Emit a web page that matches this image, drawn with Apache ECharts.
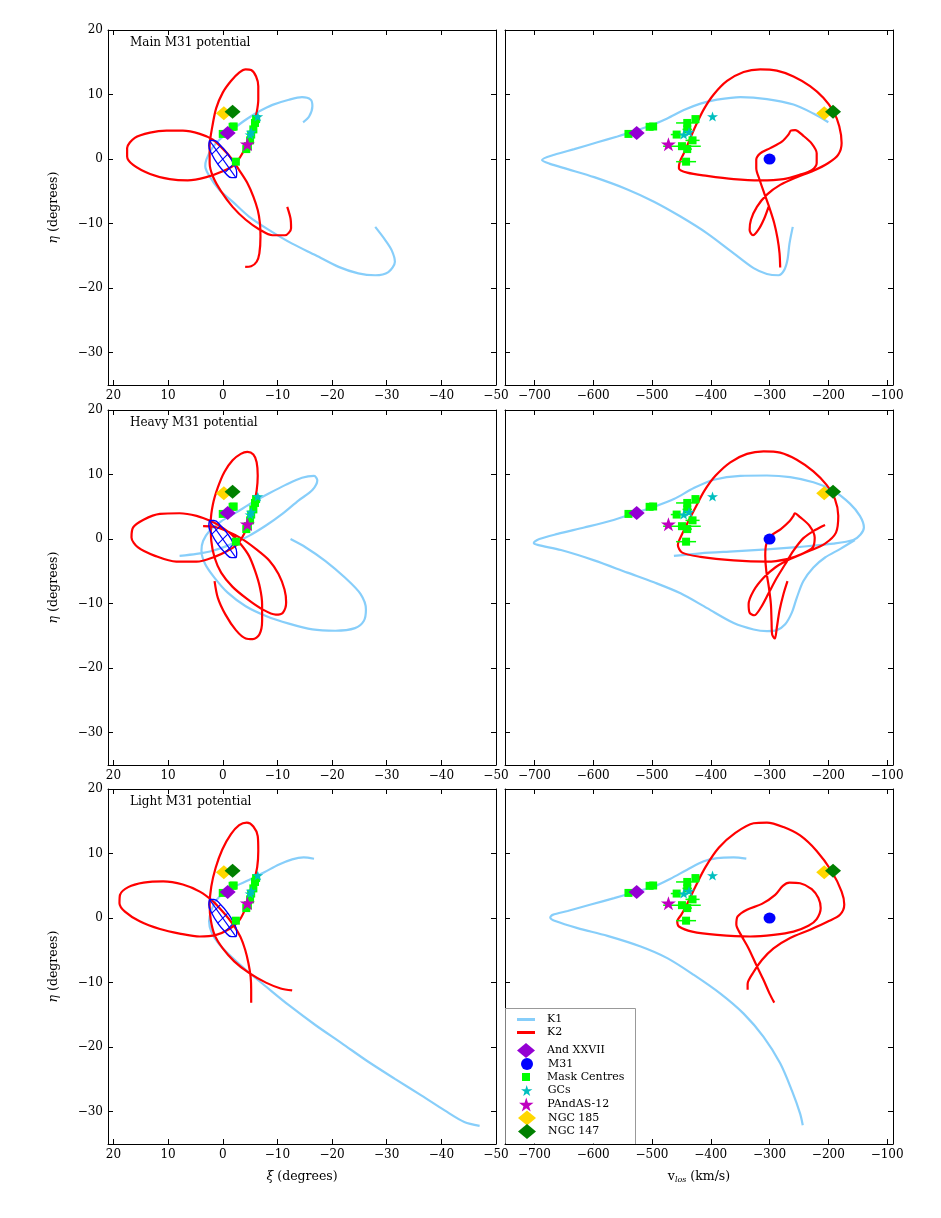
<!DOCTYPE html>
<html><head><meta charset="utf-8">
<script src="https://cdn.jsdelivr.net/npm/echarts@6.0.0/dist/echarts.min.js"></script>
<style>html,body{margin:0;padding:0;background:#fff}#c{width:941px;height:1218px}</style>
</head><body><div id="c"></div>
<script>
// ---------------- DATA ----------------
// tick labels
const xiTicks = [-50, -40, -30, -20, -10, 0, 10, 20];
const vTicks = [-700, -600, -500, -400, -300, -200, -100];
const etaTicks = [-30, -20, -10, 0, 10, 20];
const panelTitles = ['Main M31 potential', 'Heavy M31 potential', 'Light M31 potential'];

// Orbits: sky = [xi, eta] (degrees), vel = [v_los (km/s), eta]
const k1MainSky = [[-14.7,5.7],[-15.8,6.6],[-16.4,8.2],[-16.1,9.2],[-14.5,9.6],[-12.1,9.2],[-9.1,8.4],[-6.7,7.4],[-4.2,6.1],[-1.8,4.6],[0.6,3.0],[2.1,1.5],[3.0,-0.1],[3.2,-1.1],[2.4,-2.7],[0.6,-4.8],[-1.8,-6.6],[-4.8,-8.9],[-8.5,-11.0],[-12.7,-13.1],[-17.0,-14.9],[-21.2,-16.7],[-24.8,-17.7],[-27.9,-18.0],[-30.3,-17.5],[-31.5,-15.9],[-30.9,-14.1],[-29.7,-12.5],[-27.9,-10.5]];
const k1MainVel = [[-200,5.7],[-225.4,7.05],[-259.3,8.45],[-304.5,9.3],[-349.7,9.6],[-389.3,9.2],[-417.5,8.6],[-445.8,7.6],[-474,6.3],[-502.3,5.2],[-530.5,4.3],[-558.8,3.5],[-592.7,2.6],[-632.2,1.55],[-666.1,0.67],[-687,-0.15],[-674.6,-0.7],[-643.5,-1.55],[-598.3,-2.8],[-541.8,-4.7],[-496.6,-6.6],[-451.4,-8.9],[-406.2,-11.5],[-361,-14.6],[-327.1,-16.9],[-304.5,-17.8],[-284.7,-18.0],[-275.1,-17.2],[-269.5,-15.6],[-266.1,-13.1],[-260.5,-10.5]];
const k2MainSky = [[-4.1,-16.7],[-5.2,-16.6],[-6.2,-15.9],[-6.7,-14.6],[-6.9,-12.0],[-6.8,-9.9],[-6.4,-7.9],[-5.6,-5.8],[-4.5,-3.7],[-3.0,-1.7],[-1.5,0.2],[0.1,1.7],[1.8,3.0],[4.2,3.9],[7.3,4.4],[10.3,4.4],[13.3,4.1],[16.1,3.3],[17.5,1.7],[17.5,0.4],[16.4,-0.9],[13.3,-2.3],[9.7,-3.1],[6.4,-3.3],[3.0,-2.8],[0.0,-1.9],[-2.1,-0.9],[-3.6,0.9],[-4.7,3.0],[-5.6,5.1],[-6.2,7.2],[-6.5,9.2],[-6.5,11.3],[-6.1,12.8],[-5.2,13.8],[-4.2,13.9],[-3.0,13.4],[-1.5,12.1],[0.0,10.3],[1.2,7.9],[1.9,5.1],[2.4,2.0],[2.4,-0.6],[1.8,-2.7],[0.3,-5.0],[-1.8,-7.4],[-4.2,-9.4],[-6.7,-10.9],[-9.1,-11.8],[-11.4,-11.8],[-12.5,-10.7],[-12.4,-9.2],[-11.8,-7.4]];
const k2MainVel = [[-281.9,-16.8],[-283,-14.6],[-286.4,-12.3],[-292.1,-9.9],[-300,-7.6],[-309,-5.3],[-316.9,-3.2],[-322.6,-1.4],[-322.6,-0.1],[-315.8,0.9],[-298.9,1.7],[-279.1,2.7],[-267.8,3.8],[-263.8,4.4],[-256.5,4.5],[-242.4,3.6],[-228.2,2.4],[-219.8,0.9],[-219.8,-0.6],[-228.2,-1.7],[-248,-2.4],[-276.3,-3.1],[-315.8,-3.3],[-361,-3.1],[-406.2,-2.6],[-440.1,-2.1],[-454.2,-1.4],[-452.5,-0.4],[-445.8,0.9],[-437.3,2.7],[-426,5.1],[-411.9,7.7],[-395,10.0],[-372.3,12.1],[-344.1,13.5],[-315.8,13.9],[-287.6,13.7],[-259.3,12.8],[-231.1,11.3],[-208.5,9.5],[-191.5,7.4],[-181.4,5.1],[-177.4,2.5],[-183.1,0.7],[-200,-0.6],[-225.4,-1.8],[-253.7,-2.8],[-281.9,-4.0],[-304.5,-5.5],[-321.5,-7.4],[-331.6,-9.4],[-333.9,-11.0],[-328.2,-11.8],[-318.6,-10.9],[-309,-9.2],[-301.7,-7.4]];

const k1HeavySky = [[-12.4,0],[-15.2,-1.3],[-18.8,-3.4],[-22.4,-6.0],[-25.2,-8.5],[-26.2,-10.9],[-25.8,-12.7],[-24.2,-13.8],[-20.6,-14.2],[-16.4,-14.0],[-12.1,-13.1],[-7.9,-11.9],[-4.2,-10.4],[-0.9,-8.3],[1.5,-6.0],[3.2,-3.9],[3.9,-1.8],[3.6,-0.3],[2.4,1.3],[0.3,2.75],[-2.4,4.1],[-5.5,5.7],[-8.5,7.1],[-11.5,8.4],[-14.5,9.5],[-16.7,9.8],[-17.3,9.1],[-16.4,7.6],[-13.9,6.0],[-10.9,3.9],[-7.9,2.1],[-4.8,0.5],[-1.8,-0.7],[1.8,-1.8],[4.8,-2.3],[7.9,-2.6]];
const k1HeavyVel = [[-154.8,-0.15],[-180.2,-1.55],[-205.6,-2.85],[-225.4,-4.4],[-242.4,-6.5],[-253.7,-9.1],[-262.1,-11.4],[-273.4,-13.2],[-287.6,-14.1],[-304.5,-14.25],[-327.1,-14.0],[-361,-13.0],[-406.2,-10.7],[-451.4,-8.4],[-496.6,-6.7],[-541.8,-5.2],[-598.3,-3.3],[-654.8,-1.7],[-694.4,-0.9],[-701,-0.6],[-691.5,0],[-660.5,0.8],[-615.3,1.8],[-570.1,2.85],[-530.5,4.0],[-496.6,5.0],[-462.7,6.2],[-428.8,7.9],[-394.9,9.2],[-349.7,9.8],[-304.5,9.85],[-265,9.6],[-225.4,8.8],[-191.5,7.5],[-163.3,5.5],[-146.3,3.6],[-139.5,1.8],[-145.2,0.7],[-157.6,-0.15],[-191.5,-0.7],[-248,-1.2],[-304.5,-1.6],[-361,-1.9],[-417.5,-2.2],[-462.7,-2.6]];
const k2HeavySky = [[1.5,-6.5],[0.9,-9.1],[-0.5,-11.7],[-2.4,-14.1],[-4.2,-15.4],[-5.5,-15.5],[-6.7,-14.8],[-7.2,-12.7],[-7.2,-10.1],[-6.8,-7.5],[-5.9,-4.9],[-4.8,-2.6],[-3.3,-0.8],[-1.5,0.8],[0.3,1.9],[2.1,2.75],[4.8,3.6],[7.9,4.0],[11.5,3.9],[14.5,3.0],[16.4,1.8],[16.7,0.26],[15.5,-1.3],[12.4,-2.6],[8.5,-3.5],[4.8,-3.5],[1.5,-2.75],[-0.9,-1.8],[-2.7,-0.8],[-3.9,0.8],[-4.8,2.6],[-5.6,4.9],[-6.2,7.5],[-6.4,9.8],[-6.2,11.9],[-5.6,13.1],[-4.5,13.5],[-3.3,13.2],[-1.8,12.2],[-0.3,10.4],[0.9,8.0],[1.8,5.4],[2.2,2.6],[2.1,-0.26],[1.5,-2.85],[0.3,-5.2],[-1.8,-7.4],[-4.5,-9.3],[-7.3,-10.9],[-9.7,-11.7],[-11.0,-11.4],[-11.6,-9.8],[-11.3,-7.8],[-10.2,-5.4],[-8.5,-3.3],[-6.1,-1.55],[-3.3,0.15],[-0.6,1.3],[1.5,1.9],[3.6,2.0]];
const k2HeavyVel = [[-269.5,-6.5],[-276.3,-8.5],[-283.1,-11.1],[-287.6,-13.7],[-291,-15.4],[-295.5,-14.8],[-296.6,-12.7],[-297.7,-10.1],[-301.1,-7.5],[-305.6,-4.9],[-307.3,-2.6],[-305.6,-0.8],[-297.7,0.5],[-280.8,1.55],[-266.1,2.75],[-259.3,3.6],[-257,4.0],[-248,3.4],[-232.2,2.1],[-223.2,0.26],[-226.6,-1.3],[-245.2,-2.3],[-270.6,-3.1],[-304.5,-3.5],[-361,-3.3],[-417.5,-2.75],[-448.6,-2.1],[-455.9,-0.9],[-448.6,0.8],[-439,2.6],[-426,4.9],[-410.7,7.5],[-392.1,9.8],[-366.7,11.9],[-338.4,13.2],[-310.2,13.6],[-281.9,13.4],[-253.7,12.3],[-225.4,10.5],[-203,8.4],[-188.7,6.2],[-183.1,3.6],[-187,1.0],[-205.6,-0.7],[-233.9,-1.9],[-265,-3.1],[-290.4,-4.4],[-310.2,-6.0],[-327.1,-8.0],[-335.6,-10.1],[-333.9,-11.4],[-326,-11.8],[-314.7,-10.6],[-301.7,-8.4],[-287.6,-6.0],[-273.4,-3.9],[-259.3,-1.8],[-242.4,0.15],[-222.6,1.4],[-205.6,2.2]];

const k1LightSky = [[-16.7,9.2],[-14.8,9.4],[-12.7,9.1],[-10.3,8.3],[-7.6,7.1],[-4.8,5.9],[-2.4,5.0],[-0.3,4.0],[1.2,2.75],[2.1,1.2],[2.5,-0.5],[2.1,-2.1],[0.9,-3.8],[-1.2,-5.7],[-4.2,-8.0],[-7.9,-10.6],[-12.1,-13.5],[-17.0,-16.6],[-21.8,-19.4],[-26.7,-22.3],[-31.5,-24.9],[-36.4,-27.5],[-40.6,-29.8],[-44.2,-31.6],[-47.0,-32.2]];
const k1LightVel = [[-339.5,9.2],[-361,9.4],[-389.3,9.3],[-411.9,8.8],[-440.1,7.5],[-468.4,6.1],[-496.6,4.9],[-530.5,4.0],[-564.4,3.1],[-604,2.1],[-643.5,1.1],[-668.9,0.5],[-673,0.1],[-663.3,-0.5],[-626.6,-1.55],[-575.7,-2.75],[-519.2,-4.4],[-474,-6.2],[-428.8,-8.8],[-383.6,-11.7],[-344.1,-14.8],[-310.2,-18.4],[-281.9,-22.5],[-262.1,-26.7],[-248,-30.3],[-243.5,-32.1]];
const k2LightSky = [[-5.2,-13.1],[-5.2,-11.1],[-5.1,-9.1],[-4.7,-7.0],[-4.1,-4.9],[-3.2,-2.85],[-1.8,-0.9],[-0.1,0.9],[1.8,2.6],[4.2,4.1],[7.3,5.2],[10.9,5.7],[14.5,5.5],[17.3,4.8],[18.8,3.6],[18.9,2.3],[17.9,1.0],[15.2,-0.5],[11.5,-1.7],[7.9,-2.4],[4.2,-2.85],[1.2,-2.6],[-1.2,-1.7],[-2.9,-0.5],[-3.9,1.0],[-4.8,3.1],[-5.6,5.4],[-6.3,7.9],[-6.5,10.4],[-6.4,12.7],[-5.6,14.2],[-4.4,14.8],[-3.0,14.4],[-1.5,13.0],[0.1,10.6],[1.3,7.8],[2.1,4.9],[2.4,2.1],[2.2,-0.26],[1.5,-2.6],[0.0,-4.7],[-2.1,-6.7],[-4.8,-8.5],[-7.9,-10.0],[-10.6,-10.9],[-12.7,-11.2]];
const k2LightVel = [[-292,-13.1],[-300,-11.7],[-310.2,-9.6],[-322.6,-7.25],[-335.6,-4.7],[-348.6,-2.6],[-356.5,-1.0],[-354.2,0.26],[-338.4,1.3],[-313,2.2],[-290.4,3.6],[-277.4,5.0],[-266.1,5.5],[-248,5.4],[-228.2,4.5],[-216.9,3.1],[-213,1.55],[-219.8,-0.15],[-233.9,-1.2],[-259.3,-2.1],[-293.2,-2.6],[-332.8,-2.85],[-389.3,-2.6],[-431.6,-2.1],[-454.2,-1.3],[-457,-0.5],[-450.3,0.5],[-440.1,2.2],[-426,4.9],[-409,7.9],[-386.4,10.9],[-358.2,13.2],[-327.1,14.7],[-304.5,14.8],[-276.3,14.1],[-248,12.8],[-219.8,10.4],[-194.4,7.25],[-177.4,4.1],[-172.9,2.1],[-180.2,0.5],[-200,-0.5],[-231.1,-1.8],[-265,-3.1],[-293.2,-4.7],[-313,-6.5],[-328.2,-8.5],[-337.3,-10.2],[-337.3,-11.1]];

// M31 disk outline (xi, eta) and its inner grid lines
const m31DiskOutline = [[2.41,2.87],[2.55,2.10],[2.00,0.76],[0.92,-0.77],[-0.41,-2.10],[-1.63,-2.87],[-2.41,-2.87],[-2.55,-2.10],[-2.00,-0.76],[-0.92,0.77],[0.41,2.10],[1.63,2.87],[2.41,2.87]];
const m31DiskMajor = [[2.41,2.87],[-2.41,-2.87]];
const m31DiskMinor = [[0.92,-0.77],[-0.92,0.77]];
const m31DiskChordA = [[2.00,0.76],[0.41,2.10]];
const m31DiskChordB = [[-0.41,-2.10],[-2.00,-0.76]];

// Objects: [xi, eta, v_los]
const andXXVII = [-0.9, 4.05, -526];
const m31 = [0, 0, -300];
const pandas12 = [-4.5, 2.3, -472];
const ngc185 = [-0.2, 7.1, -207];
const ngc147 = [-1.8, 7.35, -192];
const gcXi = [-6.4, -5.2, -5.0];
const gcEta = [6.6, 4.2, 3.8];
const gcV = [-397, -437, -446];
const maskXi = [0.0, -1.8, -2.0, -5.9, -6.1, -5.6, -5.2, -5.0, -4.6, -4.3, -2.4];
const maskEta = [3.9, 5.0, 5.05, 5.6, 6.2, 4.6, 3.8, 2.9, 2.0, 1.55, -0.4];
const maskV = [-540, -504, -498, -440, -426, -440, -458, -431, -449, -440, -442];
const maskVErr = [5, 5, 5, 19, 6, 8, 10, 12, 32, 8, 17];

// ---------------- CHART ----------------
const SERIF = 'DejaVu Serif';
const FS = 12;
const K1C = '#87CEFA', K2C = '#FF0000';
const STAR = 'path://M50,0L61.2,35.5L98,35.5L68.4,57.4L79.4,92.5L50,71L20.6,92.5L31.6,57.4L2,35.5L38.8,35.5Z';
const LINE_ICON = 'path://M0,0H60V10H0Z';
const SQUARE_ICON = 'path://M0,0H10V10H0Z';
const fmt = v => String(v).replace('-', '\u2212');

const rowTops = [30, 410, 789];
const colLefts = [108, 505];
const GW = 388, GH = 355;

const skyCurves = [[k1MainSky, k2MainSky], [k1HeavySky, k2HeavySky], [k1LightSky, k2LightSky]];
const velCurves = [[k1MainVel, k2MainVel], [k1HeavyVel, k2HeavyVel], [k1LightVel, k2LightVel]];

const grids = [], xAxes = [], yAxes = [], series = [], titles = [];

function axisBase(extra) {
  return Object.assign({
    type: 'value', splitLine: {show: false},
    axisLine: {show: true, onZero: false, lineStyle: {color: '#000', width: 1}},
  }, extra);
}

for (let r = 0; r < 3; r++) {
  for (let c = 0; c < 2; c++) {
    const gi = r * 2 + c;
    grids.push({left: colLefts[c], top: rowTops[r], width: GW, height: GH, containLabel: false, outerBoundsMode: 'none'});
    const xr = c === 0 ? {min: -50, max: 21, inverse: true} : {min: -750, max: -90, inverse: false};
    const xt = c === 0 ? xiTicks : vTicks;
    const xName = r === 2 ? (c === 0 ? '{i|\u03be} (degrees)' : 'v{s|los} (km/s)') : '';
    xAxes.push(axisBase(Object.assign({
      gridIndex: gi, position: 'bottom',
      axisTick: {show: true, inside: true, length: 5, customValues: xt, lineStyle: {color: '#000'}},
      axisLabel: {show: true, customValues: xt, formatter: fmt, margin: 5, fontFamily: SERIF, fontSize: FS, color: '#000'},
      name: xName, nameLocation: 'middle', nameGap: 26,
      nameTextStyle: {fontFamily: SERIF, fontSize: 12.5, color: '#000',
        rich: {i: {fontFamily: SERIF, fontStyle: 'italic', fontSize: 12.5, color: '#000'},
               s: {fontFamily: SERIF, fontStyle: 'italic', fontSize: 8, color: '#000', padding: [6, 0, 0, 0]}}}
    }, xr)));
    xAxes.push(axisBase(Object.assign({
      gridIndex: gi, position: 'top',
      axisTick: {show: true, inside: true, length: 5, customValues: xt, lineStyle: {color: '#000'}},
      axisLabel: {show: false}
    }, xr)));
    yAxes.push(axisBase({
      gridIndex: gi, position: 'left', min: -35, max: 20,
      axisTick: {show: true, inside: true, length: 5, customValues: etaTicks, lineStyle: {color: '#000'}},
      axisLabel: {show: c === 0, customValues: etaTicks, formatter: fmt, margin: 5, fontFamily: SERIF, fontSize: FS, color: '#000'},
      name: c === 0 ? '{i|\u03b7} (degrees)' : '', nameLocation: 'middle', nameGap: 48,
      nameTextStyle: {fontFamily: SERIF, fontSize: 12.5, color: '#000',
        rich: {i: {fontFamily: SERIF, fontStyle: 'italic', fontSize: 12.5, color: '#000'}}}
    }));
    yAxes.push(axisBase({
      gridIndex: gi, position: 'right', min: -35, max: 20,
      axisTick: {show: true, inside: true, length: 5, customValues: etaTicks, lineStyle: {color: '#000'}},
      axisLabel: {show: false}
    }));

    const ax = {xAxisIndex: 2 * gi, yAxisIndex: 2 * gi};
    const curves = c === 0 ? skyCurves[r] : velCurves[r];
    const line = (name, data, color, width, smooth) => Object.assign({
      type: 'line', name, data, symbol: 'none', smooth: smooth, silent: true,
      lineStyle: {color, width}, itemStyle: {color}, z: 2, animation: false
    }, ax);
    series.push(line('K1', curves[0], K1C, 2.2, 0.3));
    series.push(line('K2', curves[1], K2C, 2.2, 0.3));

    const pick = (o) => c === 0 ? [o[0], o[1]] : [o[2], o[1]];
    const scat = (name, data, symbol, size, color, z) => Object.assign({
      type: 'scatter', name, data, symbol, symbolSize: size, silent: true,
      itemStyle: {color, opacity: 1}, z: z, animation: false
    }, ax);

    if (c === 0) {
      series.push(line('M31 disk', m31DiskOutline, '#0000FF', 1.4, 0.5));
      [m31DiskMajor, m31DiskMinor, m31DiskChordA, m31DiskChordB].forEach(seg =>
        series.push(line('M31 disk grid', seg, '#0000FF', 1.1, false)));
    } else {
      series.push(Object.assign({
        type: 'custom', name: 'mask errors', silent: true, z: 3, animation: false,
        data: maskV.map((v, i) => [v, maskEta[i], maskVErr[i]]),
        encode: {x: 0, y: 1},
        renderItem: function (params, api) {
          const a = api.coord([api.value(0) - api.value(2), api.value(1)]);
          const b = api.coord([api.value(0) + api.value(2), api.value(1)]);
          return {type: 'line', shape: {x1: a[0], y1: a[1], x2: b[0], y2: b[1]}, style: {stroke: '#00FF00', lineWidth: 1.5}};
        }
      }, ax));
    }
    const maskData = maskEta.map((e, i) => c === 0 ? [maskXi[i], e] : [maskV[i], e]);
    const gcData = gcEta.map((e, i) => c === 0 ? [gcXi[i], e] : [gcV[i], e]);
    series.push(scat('Mask Centres', maskData, 'rect', 8, '#00FF00', 4));
    series.push(scat('GCs', gcData, STAR, [11, 10], '#00BFBF', 5));
    series.push(scat('PAndAS-12', [pick(pandas12)], STAR, [15, 14], '#BF00BF', 5));
    series.push(scat('And XXVII', [pick(andXXVII)], 'diamond', [16, 14], '#9400D3', 6));
    if (c === 1) series.push(scat('M31', [pick(m31)], 'circle', [12, 11], '#0000FF', 6));
    series.push(scat('NGC 185', [pick(ngc185)], 'diamond', [16, 14], '#FFD700', 6));
    series.push(scat('NGC 147', [pick(ngc147)], 'diamond', [16, 14], '#008000', 7));
  }
  titles.push({text: panelTitles[r], left: 130, top: rowTops[r] + 7, padding: 0,
    textStyle: {fontFamily: SERIF, fontSize: 12, fontWeight: 'normal', color: '#000'}});
}

// legend: one component per entry so each marker keeps its own size
const legendItems = [
  {name: 'K1', yc: 1021, h: 14, dx: 0, icon: LINE_ICON},
  {name: 'K2', yc: 1034, h: 14, dx: 0, icon: LINE_ICON},
  {name: 'And XXVII', yc: 1050.5, h: 15, dx: 0},
  {name: 'M31', yc: 1064, h: 12, dx: 4},
  {name: 'Mask Centres', yc: 1077.5, h: 8, dx: 5, icon: SQUARE_ICON},
  {name: 'GCs', yc: 1091, h: 11, dx: 4},
  {name: 'PAndAS-12', yc: 1104.5, h: 14, dx: 2},
  {name: 'NGC 185', yc: 1118, h: 15, dx: 1},
  {name: 'NGC 147', yc: 1131.5, h: 15, dx: 1}
];
const legends = legendItems.map(it => ({
  data: [it.icon ? {name: it.name, icon: it.icon} : it.name],
  left: 517 + it.dx, top: it.yc - Math.max(it.h, 12) / 2, orient: 'vertical',
  itemWidth: 18, itemHeight: it.h, padding: 0, selectedMode: false, symbolKeepAspect: true, z: 10,
  textStyle: {fontFamily: SERIF, fontSize: 11, color: '#000', padding: [0, 0, 0, 7]}
}));

const chart = echarts.init(document.getElementById('c'), null, {renderer: 'canvas', width: 941, height: 1218});
chart.setOption({
  animation: false,
  backgroundColor: '#fff',
  title: titles,
  grid: grids,
  xAxis: xAxes,
  yAxis: yAxes,
  legend: legends,
  graphic: [
    {type: 'rect', shape: {x: 505.5, y: 1008.5, width: 130, height: 135}, style: {fill: '#fff', stroke: null}, z: 8},
    {type: 'polyline', shape: {points: [[505, 1008.5], [635.5, 1008.5], [635.5, 1144]]}, style: {stroke: '#999', lineWidth: 1, fill: null}, z: 9}
  ],
  series: series
});
</script></body></html>
